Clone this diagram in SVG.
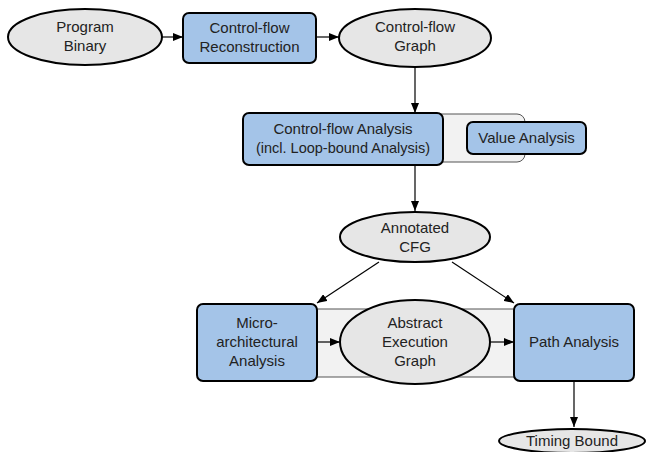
<svg xmlns="http://www.w3.org/2000/svg" width="646" height="452" viewBox="0 0 646 452">
<defs>
<marker id="ah" markerWidth="10" markerHeight="8" refX="10" refY="4" orient="auto" markerUnits="userSpaceOnUse">
<path d="M0,0 L10,4 L0,8 Z" fill="#000"/>
</marker>
<style>
.box{fill:#a4c4e8;stroke:#000;stroke-width:2}
.ell{fill:#e6e6e6;stroke:#000;stroke-width:2}
.panel{fill:#f2f2f2;stroke:#555;stroke-width:1}
.t{font-family:"Liberation Sans",Arial,sans-serif;font-size:15px;fill:#222;text-anchor:middle}
.c{stroke:#000;stroke-width:1.2;fill:none;marker-end:url(#ah)}
</style>
</defs>
<rect width="646" height="452" fill="#fff"/>
<g id="panel-value">
<rect class="panel" x="300" y="114" width="225" height="48" rx="8"/>
</g>
<g id="panel-aeg">
<rect class="panel" x="300" y="309" width="230" height="68"/>
</g>
<g id="connectors">
<line class="c" x1="162" y1="37" x2="183" y2="37"/>
<line class="c" x1="316" y1="37" x2="339" y2="37"/>
<line class="c" x1="415" y1="68" x2="415" y2="113"/>
<line class="c" x1="415" y1="165" x2="415" y2="211"/>
<line class="c" x1="379" y1="262" x2="317" y2="303"/>
<line class="c" x1="452" y1="262" x2="514" y2="303"/>
<line class="c" x1="317" y1="342" x2="340" y2="342"/>
<line class="c" x1="491" y1="342" x2="514" y2="342"/>
<line class="c" x1="574" y1="381" x2="574" y2="427"/>
</g>
<g id="program-binary">
<ellipse class="ell" cx="85" cy="37" rx="77" ry="28"/>
<text class="t" x="85" y="32">Program</text>
<text class="t" x="85" y="51">Binary</text>
</g>
<g id="cf-reconstruction">
<rect class="box" x="183" y="13" width="133" height="50" rx="6"/>
<text class="t" x="249.5" y="33">Control-flow</text>
<text class="t" x="249.5" y="52">Reconstruction</text>
</g>
<g id="cf-graph">
<ellipse class="ell" cx="415" cy="38" rx="76" ry="29"/>
<text class="t" x="415" y="32">Control-flow</text>
<text class="t" x="415" y="51">Graph</text>
</g>
<g id="cf-analysis">
<rect class="box" x="243" y="113" width="200" height="52" rx="6"/>
<text class="t" x="343" y="134">Control-flow Analysis</text>
<text class="t" x="343" y="153" style="font-size:14.5px">(incl. Loop-bound Analysis)</text>
</g>
<g id="value-analysis">
<rect class="box" x="467" y="122" width="119" height="32" rx="6"/>
<text class="t" x="526.5" y="143">Value Analysis</text>
</g>
<g id="annotated-cfg">
<ellipse class="ell" cx="415" cy="237" rx="75" ry="25"/>
<text class="t" x="415" y="233">Annotated</text>
<text class="t" x="415" y="252">CFG</text>
</g>
<g id="micro-arch">
<rect class="box" x="197" y="304" width="120" height="77" rx="6"/>
<text class="t" x="257" y="328">Micro-</text>
<text class="t" x="257" y="347">architectural</text>
<text class="t" x="257" y="366">Analysis</text>
</g>
<g id="aeg">
<ellipse class="ell" cx="415" cy="342" rx="75" ry="42"/>
<text class="t" x="415" y="328">Abstract</text>
<text class="t" x="415" y="347">Execution</text>
<text class="t" x="415" y="366">Graph</text>
</g>
<g id="path-analysis">
<rect class="box" x="514" y="304" width="120" height="77" rx="6"/>
<text class="t" x="574" y="347">Path Analysis</text>
</g>
<g id="timing-bound">
<ellipse class="ell" cx="572" cy="441" rx="73" ry="12"/>
<text class="t" x="572" y="446">Timing Bound</text>
</g>
</svg>
